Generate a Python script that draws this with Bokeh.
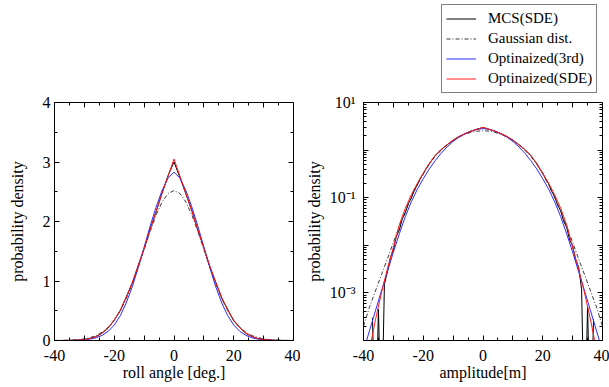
from bokeh.plotting import figure
from bokeh.layouts import row, column
from bokeh.models import FixedTicker, LinearAxis, LogAxis, Legend, LegendItem, Spacer
from bokeh.embed import file_html
from bokeh.resources import INLINE

# ---------------- data ----------------
# left panel: roll angle [deg.]
x_left = [-40, -38, -36, -34, -32, -30, -28, -26, -24, -22, -20, -18, -16, -14, -12, -10, -8, -6, -4, -2,
          0, 2, 4, 6, 8, 10, 12, 14, 16, 18, 20, 22, 24, 26, 28, 30, 32, 34, 36, 38, 40]
gauss_left = [0.00085, 0.0018, 0.0039, 0.0078, 0.015, 0.028, 0.050, 0.0858, 0.141, 0.224, 0.341, 0.499,
              0.701, 0.946, 1.227, 1.528, 1.830, 2.105, 2.326, 2.470, 2.520, 2.470, 2.326, 2.105, 1.830,
              1.528, 1.227, 0.946, 0.701, 0.499, 0.341, 0.224, 0.141, 0.0858, 0.050, 0.028, 0.015, 0.0078,
              0.0039, 0.0018, 0.00085]
sde_left = [0.0001, 0.0003, 0.001, 0.0027, 0.0068, 0.016, 0.034, 0.068, 0.125, 0.215, 0.34, 0.51, 0.72,
            0.97, 1.25, 1.55, 1.86, 2.17, 2.47, 2.76, 3.05, 2.76, 2.47, 2.17, 1.86, 1.55, 1.25, 0.97, 0.72,
            0.51, 0.34, 0.215, 0.125, 0.068, 0.034, 0.016, 0.0068, 0.0027, 0.001, 0.0003, 0.0001]
third_left = [0.0001, 0.0003, 0.0008, 0.002, 0.005, 0.011, 0.024, 0.047, 0.088, 0.155, 0.26, 0.415, 0.63,
              0.9, 1.22, 1.57, 1.92, 2.24, 2.52, 2.73, 2.83, 2.73, 2.52, 2.24, 1.92, 1.57, 1.22, 0.9, 0.63,
              0.415, 0.26, 0.155, 0.088, 0.047, 0.024, 0.011, 0.005, 0.002, 0.0008, 0.0003, 0.0001]
mcs_left = [0.0, 0.0, 0.001, 0.003, 0.007, 0.015, 0.035, 0.066, 0.128, 0.21, 0.345, 0.50, 0.73, 0.96, 1.26,
            1.54, 1.87, 2.16, 2.48, 2.77, 3.0, 2.74, 2.46, 2.18, 1.85, 1.56, 1.24, 0.98, 0.71, 0.52, 0.33,
            0.22, 0.12, 0.07, 0.033, 0.017, 0.006, 0.003, 0.001, 0.0, 0.0]

# right panel: amplitude [m] (log scale)
x_right = x_left
gauss_right = [0.0002, 0.0005, 0.0011, 0.0024, 0.0052, 0.0115, 0.025, 0.052, 0.1, 0.185, 0.315, 0.5,
               0.74, 0.99, 1.27, 1.58, 1.88, 2.15, 2.36, 2.5, 2.55, 2.5, 2.36, 2.15, 1.88, 1.58, 1.27,
               0.99, 0.74, 0.5, 0.315, 0.185, 0.1, 0.052, 0.025, 0.0115, 0.0052, 0.0024, 0.0011, 0.0005,
               0.0002]
sde_right = [1.24e-5, 6.3e-5, 0.000271, 0.001, 0.0032, 0.00902, 0.027, 0.06, 0.115, 0.2, 0.327, 0.52,
             0.77, 1.03, 1.3, 1.62, 1.93, 2.22, 2.5, 2.75, 3.0, 2.75, 2.5, 2.22, 1.93, 1.62, 1.3, 1.03, 0.77,
             0.52, 0.327, 0.2, 0.115, 0.06, 0.027, 0.00902, 0.0032, 0.001, 0.000271, 6.3e-5, 1.24e-5]
third_right = [6e-5, 0.00016, 0.00042, 0.0011, 0.0028, 0.0072, 0.0175, 0.04, 0.082, 0.15, 0.25,
               0.40, 0.60, 0.86, 1.17, 1.52, 1.88, 2.2, 2.5, 2.72, 2.83, 2.72, 2.5, 2.2, 1.88, 1.52, 1.17,
               0.86, 0.60, 0.40, 0.25, 0.15, 0.082, 0.04, 0.0175, 0.0072, 0.0028, 0.0011, 0.00042,
               0.00016, 6e-5]
x_mcs_right = list(range(-37, 38))
mcs_right = [3.0e-4, 1e-6, 4.5e-4, 1e-6, 1.5e-3, 2.8e-3, 5.5e-3, 8.0e-3, 1.55e-2, 2.1e-2, 3.6e-2, 4.8e-2,
             7.5e-2, 0.098, 0.145, 0.185, 0.255, 0.32, 0.415, 0.515, 0.635, 0.765, 0.895, 1.025, 1.165,
             1.295, 1.455, 1.615, 1.775, 1.935, 2.065, 2.225, 2.355, 2.505, 2.615, 2.755, 2.86, 2.98,
             2.865, 2.745, 2.625, 2.495, 2.365, 2.215, 2.075, 1.925, 1.765, 1.625, 1.445, 1.305, 1.155,
             1.035, 0.885, 0.775, 0.625, 0.525, 0.405, 0.33, 0.245, 0.195, 0.135, 0.106, 0.069, 0.053,
             0.032, 0.024, 0.013, 0.0098, 0.0050, 0.0035, 1.2e-3, 1e-6, 5.0e-4, 1e-6, 2.8e-4]

x_ticks = [-40, -30, -20, -10, 0, 10, 20, 30, 40]
x_tick_labels = ["-40", "", "-20", "", "0", "", "20", "", "40"]
y_left_ticks = [0, 1, 2, 3, 4]
y_left_labels = ["0", "1", "2", "3", "4"]
y_right_ticks = [1e-4, 1e-3, 1e-2, 1e-1, 1, 10]
y_right_labels = ["", "10\u207b\u00b3", "", "10\u207b\u00b9", "", "10\u00b9"]
legend_labels = ["MCS(SDE)", "Gaussian dist.", "Optinaized(3rd)", "Optinaized(SDE)"]

FONT = "Liberation Serif"
BLUE = "#2b2bff"
RED = "#ff1a1a"
GDASH = "4 2 1 2"


def style_axis(ax, standoff=4, label_standoff=0):
    ax.axis_line_color = "black"
    ax.major_tick_in = 5
    ax.major_tick_out = 0
    ax.minor_tick_in = 3
    ax.minor_tick_out = 0
    ax.major_tick_line_color = "black"
    ax.minor_tick_line_color = "black"
    ax.major_label_text_font = FONT
    ax.major_label_text_color = "black"
    ax.major_label_text_font_size = "16px"
    ax.major_label_standoff = standoff
    ax.axis_label_text_font = FONT
    ax.axis_label_text_font_size = "16px"
    ax.axis_label_text_font_style = "normal"
    ax.axis_label_text_color = "black"
    ax.axis_label_standoff = label_standoff


def mirror_axis(ax, ticks):
    style_axis(ax, standoff=0)
    ax.major_label_overrides = {t: "" for t in ticks}


xt = FixedTicker(ticks=x_ticks, minor_ticks=[-35, -25, -15, -5, 5, 15, 25, 35])
xo = {t: l for t, l in zip(x_ticks, x_tick_labels)}

FRAME_TOP = 102
LEGH = 93

# ---------------- left figure (full height) ----------------
p1 = figure(width=300, height=387, x_range=(-40, 40), y_range=(0, 4),
            output_backend="svg", toolbar_location=None,
            min_border_left=54, min_border_right=7, min_border_top=FRAME_TOP, min_border_bottom=47)
p1.grid.visible = False
p1.outline_line_color = "black"
p1.background_fill_color = "white"
p1.border_fill_color = "white"

p1.xaxis.axis_label = "roll angle [deg.]"
p1.yaxis.axis_label = "probability density"
style_axis(p1.xaxis[0], standoff=9, label_standoff=0)
style_axis(p1.yaxis[0], standoff=4, label_standoff=14)
p1.xaxis.ticker = xt
p1.xaxis.major_label_overrides = xo
yt1 = FixedTicker(ticks=y_left_ticks, minor_ticks=[0.5, 1.5, 2.5, 3.5])
p1.yaxis.ticker = yt1
p1.yaxis.major_label_overrides = {t: l for t, l in zip(y_left_ticks, y_left_labels)}

ax_r = LinearAxis(ticker=yt1, fixed_location=40)
mirror_axis(ax_r, y_left_ticks)
p1.add_layout(ax_r, "right")
ax_t = LinearAxis(ticker=xt, fixed_location=4)
mirror_axis(ax_t, x_ticks)
p1.add_layout(ax_t, "above")

p1.line(x_left, mcs_left, line_color="black", line_width=1)
p1.line(x_left, gauss_left, line_color="#222222", line_width=0.9, line_dash=GDASH)
p1.line(x_left, third_left, line_color=BLUE, line_width=1)
p1.line(x_left, sde_left, line_color=RED, line_width=1)

# ---------------- right figure (below the legend) ----------------
p2 = figure(width=309, height=387 - LEGH, x_range=(-40, 40), y_range=(1e-4, 10), y_axis_type="log",
            output_backend="svg", toolbar_location=None,
            min_border_left=63, min_border_right=7, min_border_top=FRAME_TOP - LEGH,
            min_border_bottom=47)
p2.grid.visible = False
p2.outline_line_color = "black"
p2.background_fill_color = "white"
p2.border_fill_color = "white"

p2.xaxis.axis_label = "amplitude[m]"
p2.yaxis.axis_label = "probability density"
style_axis(p2.xaxis[0], standoff=9, label_standoff=0)
style_axis(p2.yaxis[0], standoff=8, label_standoff=4)
p2.xaxis.ticker = xt
p2.xaxis.major_label_overrides = xo
minor_log = [k * 10.0 ** e for e in range(-4, 1) for k in range(2, 10)]
yt2 = FixedTicker(ticks=y_right_ticks, minor_ticks=minor_log)
p2.yaxis.ticker = yt2
p2.yaxis.major_label_overrides = {t: l for t, l in zip(y_right_ticks, y_right_labels)}

ax_r2 = LogAxis(ticker=yt2, fixed_location=40)
mirror_axis(ax_r2, y_right_ticks)
p2.add_layout(ax_r2, "right")
ax_t2 = LinearAxis(ticker=xt, fixed_location=10)
mirror_axis(ax_t2, x_ticks)
p2.add_layout(ax_t2, "above")

p2.line(x_mcs_right, mcs_right, line_color="black", line_width=1)
p2.line(x_right, gauss_right, line_color="#222222", line_width=0.9, line_dash=GDASH)
p2.line(x_right, third_right, line_color=BLUE, line_width=1)
p2.line(x_right, sde_right, line_color=RED, line_width=1)

# ---------------- legend (own small canvas above the right panel) ----------------
# the key lines reuse the series, but the y range lies above all values so only the key shows
leg = figure(width=168, height=LEGH, x_range=(-40, 40), y_range=(10, 11),
             output_backend="svg", toolbar_location=None,
             min_border_left=0, min_border_right=0, min_border_top=0, min_border_bottom=0)
leg.axis.visible = False
leg.grid.visible = False
leg.outline_line_color = None
leg.background_fill_color = "white"
leg.border_fill_color = "white"
k_mcs = leg.line(x_left, mcs_left, line_color="black", line_width=1)
k_gau = leg.line(x_left, gauss_left, line_color="#222222", line_width=0.9, line_dash=GDASH)
k_3rd = leg.line(x_left, third_left, line_color=BLUE, line_width=1)
k_sde = leg.line(x_left, sde_left, line_color=RED, line_width=1)

legend = Legend(items=[LegendItem(label=legend_labels[0], renderers=[k_mcs]),
                       LegendItem(label=legend_labels[1], renderers=[k_gau]),
                       LegendItem(label=legend_labels[2], renderers=[k_3rd]),
                       LegendItem(label=legend_labels[3], renderers=[k_sde])],
                location=(0, 0))
legend.label_text_font = FONT
legend.label_text_font_size = "15px"
legend.label_text_color = "black"
legend.glyph_width = 30
legend.glyph_height = 19
legend.label_height = 19
legend.label_standoff = 12
legend.spacing = 1
legend.padding = 4
legend.margin = 0
legend.border_line_color = "black"
legend.border_line_width = 1
legend.background_fill_color = "white"
legend.background_fill_alpha = 1.0
leg.add_layout(legend, "center")

right_col = column(row(Spacer(width=141, height=LEGH), leg), p2)
layout = row(p1, right_col)
open("out.html", "w").write(file_html(layout, INLINE))
